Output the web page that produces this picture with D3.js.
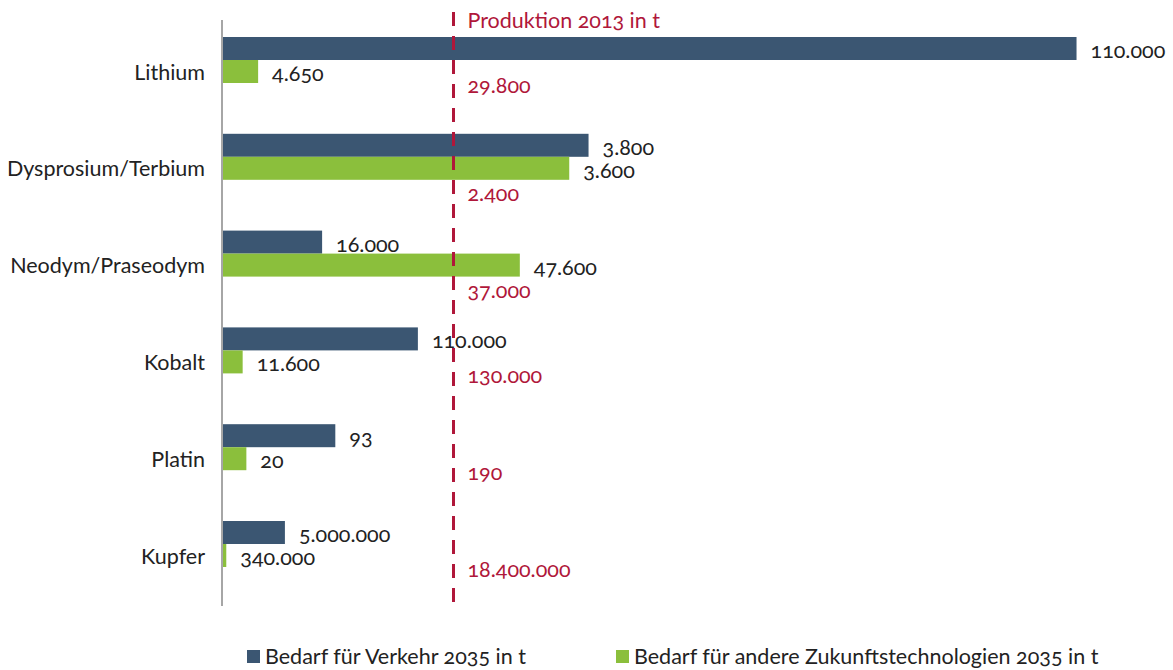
<!DOCTYPE html>
<html>
<head>
<meta charset="utf-8">
<script src="https://cdn.jsdelivr.net/npm/d3@7"></script>
<style>
  body { margin: 0; background: #fff; }
  svg text { font-family: Lato, "Open Sans", sans-serif; font-feature-settings: "onum"; }
</style>
</head>
<body>
<svg width="1173" height="670"></svg>
<script>
// Rohstoffe
var categories = ["Lithium", "Dysprosium/Terbium", "Neodym/Praseodym", "Kobalt", "Platin", "Kupfer"];
// Bedarf für Verkehr 2035 in t
var verkehr = [110000, 3800, 16000, 110000, 93, 5000000];
// Bedarf für andere Zukunftstechnologien 2035 in t
var andere = [4650, 3600, 47600, 11600, 20, 340000];
// Produktion 2013 in t
var produktion = [29800, 2400, 37000, 130000, 190, 18400000];

var legendText = ["Bedarf für Verkehr 2035 in t", "Bedarf für andere Zukunftstechnologien 2035 in t"];

var blue = "#3b5672", green = "#8bbf3c", red = "#b0173a";
var fs = 21.5;

var de = d3.formatLocale({ decimal: ",", thousands: ".", grouping: [3], currency: ["", " €"] });
var fmt = de.format(",");

var svg = d3.select("svg");
var barLayer = svg.append("g");
var lineLayer = svg.append("g");
var textLayer = svg.append("g");

// bar length = Bedarf relative to Produktion 2013 (dashed line = 100 %)
var x = d3.scaleLinear().domain([0, 1]).range([222, 453.5]);
var y = d3.scaleBand().domain(categories).range([11.6, 592.4]);
var barH = 23;

var rows = categories.map(function(c, i) {
  return { name: c, v: verkehr[i], a: andere[i], p: produktion[i] };
});

function rowPos(d) { return "translate(0," + (y(d.name) + y.bandwidth() / 2) + ")"; }

var b = barLayer.selectAll("g")
  .data(rows)
  .enter().append("g")
  .attr("transform", rowPos);

// Verkehr bars
b.append("rect")
  .attr("x", x(0))
  .attr("y", -barH)
  .attr("width", function(d) { return x(d.v / d.p) - x(0); })
  .attr("height", barH)
  .attr("fill", blue);

// andere bars
b.append("rect")
  .attr("x", x(0))
  .attr("y", 0)
  .attr("width", function(d) { return x(d.a / d.p) - x(0); })
  .attr("height", barH)
  .attr("fill", green);

// axis line
lineLayer.append("line")
  .attr("x1", x(0)).attr("x2", x(0))
  .attr("y1", 20).attr("y2", 606)
  .attr("stroke", "#a6a6a6")
  .attr("stroke-width", 2);

// dashed production line
lineLayer.append("line")
  .attr("x1", x(1)).attr("x2", x(1))
  .attr("y1", 12).attr("y2", 606)
  .attr("stroke", red)
  .attr("stroke-width", 3)
  .attr("stroke-dasharray", "14,10");

var g = textLayer.selectAll("g")
  .data(rows)
  .enter().append("g")
  .attr("transform", rowPos);

// value labels
g.append("text")
  .attr("x", function(d) { return x(d.v / d.p) + 14; })
  .attr("y", -barH / 2 + 2)
  .attr("dy", "0.35em")
  .attr("font-size", fs)
  .attr("fill", "#222")
  .text(function(d) { return fmt(d.v); });

g.append("text")
  .attr("x", function(d) { return x(d.a / d.p) + 14; })
  .attr("y", barH / 2 + 2)
  .attr("dy", "0.35em")
  .attr("font-size", fs)
  .attr("fill", "#222")
  .text(function(d) { return fmt(d.a); });

// Produktion labels, moved below the green bar if it crosses the line
g.append("text")
  .attr("x", x(1) + 14)
  .attr("y", function(d) { return d.a / d.p > 1 ? 37 : 25; })
  .attr("dy", "0.35em")
  .attr("font-size", fs)
  .attr("fill", red)
  .text(function(d) { return fmt(d.p); });

// category labels
g.append("text")
  .attr("x", 205)
  .attr("y", 12)
  .attr("dy", "0.35em")
  .attr("text-anchor", "end")
  .attr("font-size", fs)
  .attr("fill", "#222")
  .text(function(d) { return d.name; });

textLayer.append("text")
  .attr("x", x(1) + 14)
  .attr("y", 20)
  .attr("dy", "0.35em")
  .attr("font-size", fs)
  .attr("fill", red)
  .text("Produktion 2013 in t");

// legend
var legend = textLayer.selectAll("g.legend")
  .data(legendText)
  .enter().append("g")
  .attr("class", "legend")
  .attr("transform", function(d, i) { return "translate(" + [247, 616][i] + ",650)"; });

legend.append("rect")
  .attr("width", 13)
  .attr("height", 13)
  .attr("fill", function(d, i) { return [blue, green][i]; });

legend.append("text")
  .attr("x", 18)
  .attr("y", 7)
  .attr("dy", "0.32em")
  .attr("font-size", fs)
  .attr("fill", "#222")
  .text(function(d) { return d; });
</script>
</body>
</html>
